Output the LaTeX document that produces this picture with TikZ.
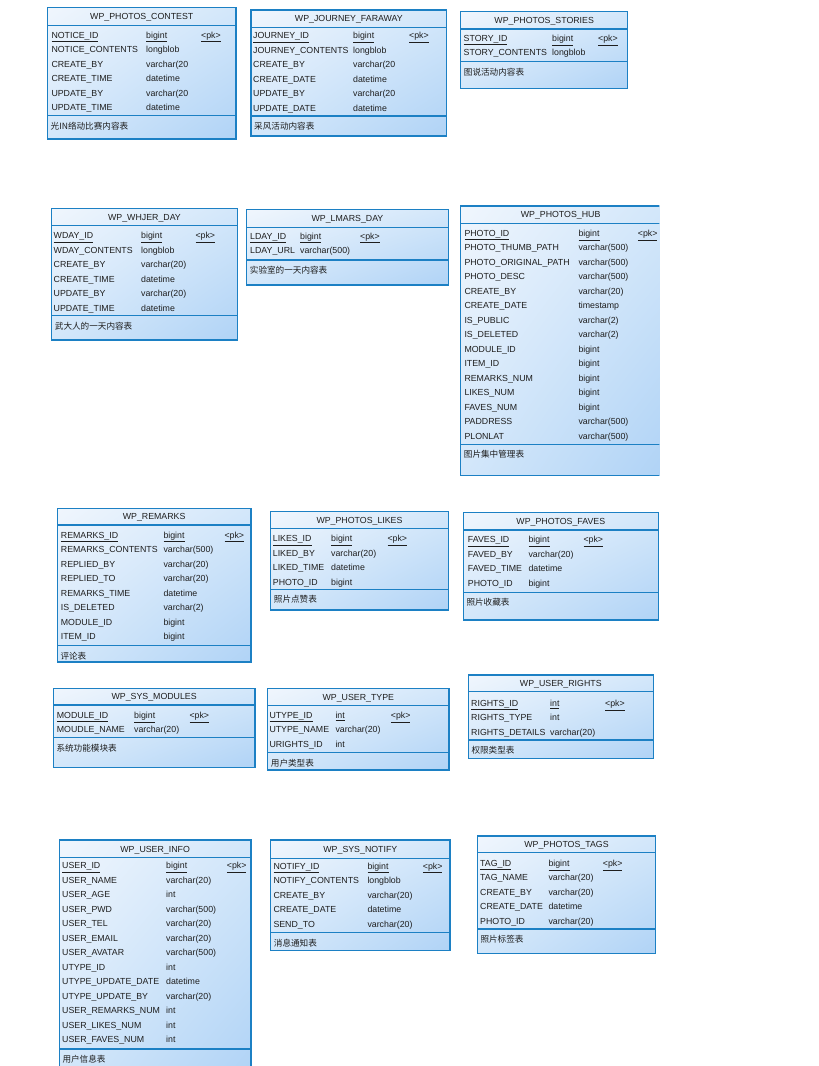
\documentclass[tikz,border=0pt]{standalone}
\usepackage{fontspec}
\usetikzlibrary{shadings}
\setmainfont{Liberation Sans}
\newfontfamily\cjk{Noto Sans CJK SC}
\definecolor{erline}{HTML}{1C80C4}
\definecolor{erlight}{HTML}{F0F6FD}
\definecolor{ermid}{HTML}{D3E7FA}
\definecolor{erdark}{HTML}{B0D3F6}
\definecolor{ertext}{HTML}{1E1E1E}
\tikzset{
  erfont/.style={font=\fontsize{8.8}{10}\selectfont, inner sep=0pt, text=ertext},
  erfield/.style={erfont, anchor=base west},
  ertitle/.style={erfont, anchor=base},
  ercomment/.style={font=\cjk\fontsize{8.6}{10}\selectfont, inner sep=0pt, anchor=base west, text=ertext},
  erborder/.style={draw=erline, line width=1.1pt},
}
% #1 id, #2 left, #3 top, #4 right, #5 title sep, #6 body sep, #7 bottom, #8 title, #9 comment
\newcommand\erbox[9]{%
  \shade[upper left=erlight, upper right=ermid, lower left=ermid, lower right=erdark] (#2,#3) rectangle (#4,#7);
  \draw[erborder] (#2,#3) rectangle (#4,#7);
  \draw[erborder] (#2,#5) -- (#4,#5);
  \draw[erborder] (#2,#6) -- (#4,#6);
  \node[ertitle] (#1-title) at ({(#2+#4)/2},{(#3+#5)/2+3.2}) {#8};
  \node[ercomment] (#1-note) at ({#2+3},{#6+13.6}) {#9};
}
% #1 id, #2 first row y, #3 field x, #4 type x, #5 pk x, #6 pk name, #7 pk type, #8 list
\newcommand\errows[8]{%
  \node[erfield] (#1-pkname) at (#3,{#2+3.2}) {\underline{#6}};
  \node[erfield] (#1-pktype) at (#4,{#2+3.2}) {\underline{#7}};
  \node[erfield] (#1-pk) at (#5,{#2+3.2}) {\underline{<pk>}};
  \foreach \fn/\ft [count=\i] in {#8} {
    \node[erfield] (#1-f\i) at (#3,{#2+3.2+14.47*\i}) {\fn};
    \node[erfield] (#1-t\i) at (#4,{#2+3.2+14.47*\i}) {\ft};
  }
}
\begin{document}
\begin{tikzpicture}[x=1pt,y=-1pt]
\useasboundingbox (0,0) rectangle (819,1066);
\fill[white] (0,0) rectangle (819,1066);
\clip (0,0) rectangle (819,1066);

% Row 1
\erbox{contest}{47.5}{7.5}{236}{25.5}{115.7}{139}{WP\_PHOTOS\_CONTEST}{光IN络动比赛内容表}
\errows{contest}{35}{51.3}{146}{201}{NOTICE\_ID}{bigint}{NOTICE\_CONTENTS/longblob, CREATE\_BY/varchar(20, CREATE\_TIME/datetime, UPDATE\_BY/varchar(20, UPDATE\_TIME/datetime}

\erbox{journey}{251}{10}{446.7}{27.3}{116}{136}{WP\_JOURNEY\_FARAWAY}{采风活动内容表}
\errows{journey}{35.5}{253}{353}{409}{JOURNEY\_ID}{bigint}{JOURNEY\_CONTENTS/longblob, CREATE\_BY/varchar(20, CREATE\_DATE/datetime, UPDATE\_BY/varchar(20, UPDATE\_DATE/datetime}

\erbox{stories}{460.7}{11.7}{627.7}{29}{61.7}{88.3}{WP\_PHOTOS\_STORIES}{图说活动内容表}
\errows{stories}{38.3}{463.5}{552}{598}{STORY\_ID}{bigint}{STORY\_CONTENTS/longblob}

% Row 2
\erbox{whjer}{51.7}{208.3}{237.3}{225.7}{315.7}{340}{WP\_WHJER\_DAY}{武大人的一天内容表}
\errows{whjer}{235.7}{53.5}{141}{195.3}{WDAY\_ID}{bigint}{WDAY\_CONTENTS/longblob, CREATE\_BY/varchar(20), CREATE\_TIME/datetime, UPDATE\_BY/varchar(20), UPDATE\_TIME/datetime}

\erbox{lmars}{246.7}{209.3}{448.3}{227.7}{260}{285}{WP\_LMARS\_DAY}{实验室的一天内容表}
\errows{lmars}{236}{250}{300}{360}{LDAY\_ID}{bigint}{LDAY\_URL/varchar(500)}

\begin{scope}
\clip (0,0) rectangle (659.3,1066);
\erbox{hub}{460.7}{206}{660.5}{223.3}{444.3}{475.3}{WP\_PHOTOS\_HUB}{图片集中管理表}
\errows{hub}{233.3}{464.3}{578.3}{637.7}{PHOTO\_ID}{bigint}{PHOTO\_THUMB\_PATH/varchar(500), PHOTO\_ORIGINAL\_PATH/varchar(500), PHOTO\_DESC/varchar(500), CREATE\_BY/varchar(20), CREATE\_DATE/timestamp, IS\_PUBLIC/varchar(2), IS\_DELETED/varchar(2), MODULE\_ID/bigint, ITEM\_ID/bigint, REMARKS\_NUM/bigint, LIKES\_NUM/bigint, FAVES\_NUM/bigint, PADDRESS/varchar(500), PLONLAT/varchar(500)}
\end{scope}

% Row 3
\erbox{remarks}{57.3}{508.3}{251}{525}{645.7}{662}{WP\_REMARKS}{评论表}
\errows{remarks}{535}{60.7}{163.3}{224.3}{REMARKS\_ID}{bigint}{REMARKS\_CONTENTS/varchar(500), REPLIED\_BY/varchar(20), REPLIED\_TO/varchar(20), REMARKS\_TIME/datetime, IS\_DELETED/varchar(2), MODULE\_ID/bigint, ITEM\_ID/bigint}

\erbox{likes}{270.7}{511.7}{448.3}{528.7}{589.3}{610}{WP\_PHOTOS\_LIKES}{照片点赞表}
\errows{likes}{538.7}{272.7}{331}{387.3}{LIKES\_ID}{bigint}{LIKED\_BY/varchar(20), LIKED\_TIME/datetime, PHOTO\_ID/bigint}

\erbox{faves}{463.3}{512.3}{658.3}{530}{592.3}{620}{WP\_PHOTOS\_FAVES}{照片收藏表}
\errows{faves}{539.7}{467.7}{528.3}{583.3}{FAVES\_ID}{bigint}{FAVED\_BY/varchar(20), FAVED\_TIME/datetime, PHOTO\_ID/bigint}

% Row 4
\erbox{modules}{53.3}{688.3}{255}{705}{737.7}{767.3}{WP\_SYS\_MODULES}{系统功能模块表}
\errows{modules}{715.3}{56.7}{134}{189.3}{MODULE\_ID}{bigint}{MOUDLE\_NAME/varchar(20)}

\erbox{usertype}{267.7}{688.3}{449}{705.7}{752.7}{770}{WP\_USER\_TYPE}{用户类型表}
\errows{usertype}{715.3}{269.3}{335.3}{390.7}{UTYPE\_ID}{int}{UTYPE\_NAME/varchar(20), URIGHTS\_ID/int}

\erbox{rights}{468.3}{675}{653.3}{691.7}{740}{758.3}{WP\_USER\_RIGHTS}{权限类型表}
\errows{rights}{703.3}{471}{550}{605}{RIGHTS\_ID}{int}{RIGHTS\_TYPE/int, RIGHTS\_DETAILS/varchar(20)}

% Row 5
\erbox{userinfo}{59.3}{840}{251}{857.7}{1049}{1075}{WP\_USER\_INFO}{用户信息表}
\errows{userinfo}{865.7}{62}{166}{226.7}{USER\_ID}{bigint}{USER\_NAME/varchar(20), USER\_AGE/int, USER\_PWD/varchar(500), USER\_TEL/varchar(20), USER\_EMAIL/varchar(20), USER\_AVATAR/varchar(500), UTYPE\_ID/int, UTYPE\_UPDATE\_DATE/datetime, UTYPE\_UPDATE\_BY/varchar(20), USER\_REMARKS\_NUM/int, USER\_LIKES\_NUM/int, USER\_FAVES\_NUM/int}

\erbox{notify}{270.7}{840}{450}{858.3}{932.7}{950.7}{WP\_SYS\_NOTIFY}{消息通知表}
\errows{notify}{866}{273.3}{367.3}{422.7}{NOTIFY\_ID}{bigint}{NOTIFY\_CONTENTS/longblob, CREATE\_BY/varchar(20), CREATE\_DATE/datetime, SEND\_TO/varchar(20)}

\erbox{tags}{477.3}{836}{655.7}{852.7}{929}{953.3}{WP\_PHOTOS\_TAGS}{照片标签表}
\errows{tags}{863.3}{480}{548.3}{602.7}{TAG\_ID}{bigint}{TAG\_NAME/varchar(20), CREATE\_BY/varchar(20), CREATE\_DATE/datetime, PHOTO\_ID/varchar(20)}
\end{tikzpicture}
\end{document}
